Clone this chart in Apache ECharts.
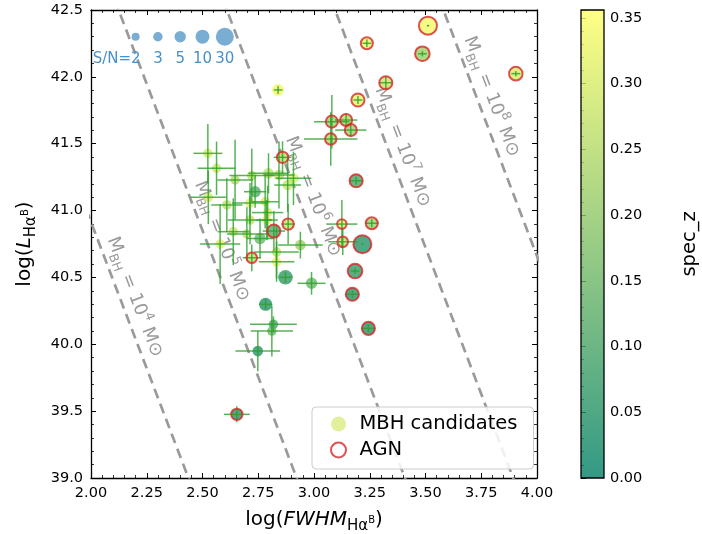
<!DOCTYPE html>
<html><head><meta charset="utf-8">
<script src="https://cdn.jsdelivr.net/npm/echarts@6/dist/echarts.min.js"></script>
<style>html,body{margin:0;padding:0;background:#fff}#c{width:702px;height:534px}</style>
</head><body><div id="c"></div>
<script>
// ---- data ----
const fwhm = [2.524,2.563,2.646,2.721,2.736,2.609,2.713,2.781,2.796,2.843,2.908,2.882,2.792,2.713,2.788,2.638,2.699,2.758,2.579,2.939,2.832,2.832,2.872,2.989,2.783,2.818,2.811,2.748,2.839,2.526,
  3.511,3.237,3.486,3.905,3.322,3.197,3.144,3.165,3.080,3.075,3.189,2.859,3.125,3.259,3.129,3.217,3.184,3.172,3.244,2.820,2.884,2.721,2.654];
const lumHa = [41.428,41.316,41.229,41.262,41.141,41.042,41.056,41.066,41.279,41.266,41.241,41.191,40.985,40.929,40.929,40.842,40.825,40.791,40.750,40.742,40.690,40.617,40.501,40.456,40.299,40.149,40.099,39.949,41.902,41.099,
  42.383,42.251,42.173,42.024,41.956,41.827,41.677,41.602,41.665,41.535,41.223,41.398,40.899,40.905,40.767,40.748,40.548,40.374,40.119,40.847,40.899,40.647,39.476];
const specZ = [0.30,0.29,0.25,0.26,0.12,0.26,0.31,0.30,0.27,0.27,0.31,0.28,0.30,0.27,0.32,0.28,0.26,0.15,0.32,0.22,0.27,0.32,0.07,0.15,0.05,0.10,0.15,0.05,0.34,0.30,
  0.34,0.33,0.22,0.30,0.28,0.32,0.25,0.22,0.22,0.25,0.10,0.27,0.30,0.22,0.27,0.05,0.07,0.05,0.05,0.12,0.28,0.27,0.05];
const snr = [3,3,3,3,5,3,3,3,4,4,4,4,3,3,3,3,3,5,3,4,3,3,12,5,8,3,3,4,6,3,
  30,6,12,9,8,8,6,6,6,5,8,5,3,6,4,30,12,8,8,8,5,4,5];
const fwhmErr = [0.065,0.085,0.08,0.1,0.05,0.07,0.08,0.06,0.09,0.07,0.08,0.06,0.07,0.1,0.05,0.07,0.09,0.06,0.09,0.1,0.1,0.08,0.03,0.063,0.03,0.105,0.095,0.1,0.02,0.08,
  0.005,0.02,0.02,0.02,0.03,0.02,0.05,0.07,0.08,0.12,0.03,0.04,0.07,0.03,0.065,0.005,0.02,0.03,0.03,0.05,0.03,0.04,0.058];
const lumErr = [0.22,0.2,0.3,0.2,0.12,0.2,0.15,0.2,0.15,0.25,0.2,0.2,0.2,0.18,0.15,0.25,0.2,0.15,0.3,0.1,0.2,0.15,0.04,0.085,0.04,0.06,0.19,0.15,0.03,0.2,
  0.005,0.03,0.02,0.02,0.05,0.03,0.05,0.05,0.2,0.2,0.03,0.12,0.18,0.03,0.1,0.005,0.02,0.03,0.03,0.15,0.15,0.1,0.06];
const isAGN = [0,0,0,0,0,0,0,0,0,0,0,0,0,0,0,0,0,0,0,0,0,0,0,0,0,0,0,0,0,0,
  1,1,1,1,1,1,1,1,1,1,1,1,1,1,1,1,1,1,1,1,1,1,1];
const massLines = [4,5,6,7,8];            // log M_BH of the constant-mass lines
const massLabelLum = [40.353,40.77,41.105,41.475,41.852];
const snLegendValues = [2,3,5,10,30];
const snLegendFwhm = [2.2,2.3,2.4,2.5,2.6];
const snLegendLum = 42.3;
const zMax = 0.356;

// ---- helpers ----
const FONT = 'DejaVu Sans';
function symSize(sn){ return 8 + 10*Math.log10(sn/2)/Math.log10(15); }
// logM = 6.57 + 0.47(logL-42) + 2.06(logFWHM-3)
function lumAt(m, fw){ return 42 + (m - 6.57 - 2.06*(fw-3))/0.47; }
function fwhmAt(m, l){ return 3 + (m - 6.57 - 0.47*(l-42))/2.06; }

const pts = fwhm.map((x,i)=>[x, lumHa[i], specZ[i], snr[i]]);
const errs = fwhm.map((x,i)=>[x, lumHa[i], fwhmErr[i], lumErr[i]]);
const agnPts = pts.filter((p,i)=>isAGN[i]===1);

const series = [];
massLines.forEach(m=>{
  series.push({type:'line', name:'M'+m, data:[[1.8, lumAt(m,1.8)],[4.3, lumAt(m,4.3)]],
    symbol:'none', silent:true, clip:true, z:1,
    lineStyle:{color:'#9a9a9a', width:2.7, type:[10,6]}});
});
series.push({type:'custom', name:'mlabels', z:2, silent:true,
  data: massLines.map((m,i)=>[fwhmAt(m, massLabelLum[i]), massLabelLum[i], m]),
  renderItem(params, api){
    const l = api.value(1), m = api.value(2);
    const p = api.coord([fwhmAt(m,l), l]);
    const p2 = api.coord([fwhmAt(m,l-1), l-1]);
    const ang = Math.atan2(p2[1]-p[1], p2[0]-p[0]);
    return {type:'text', x:p[0]+15, y:p[1], rotation:-ang,
      style:{text:'{m|M}{s|BH}{m| = 10}{p|'+m+'}{m| M⊙}', align:'center', verticalAlign:'middle',
        fill:'#9a9a9a',
        rich:{m:{fontFamily:FONT, fontSize:18, lineHeight:26, verticalAlign:'middle', fill:'#9a9a9a'},
              s:{fontFamily:FONT, fontSize:12.5, lineHeight:12, verticalAlign:'bottom', fill:'#9a9a9a'},
              p:{fontFamily:FONT, fontSize:12.5, lineHeight:12, verticalAlign:'top', fill:'#9a9a9a'}}}};
  }});
series.push({type:'scatter', name:'MBH candidates', data:pts, z:3,
  symbolSize:(v)=>symSize(v[3]), itemStyle:{opacity:0.8}});
series.push({type:'custom', name:'errors', z:4, silent:true, data:errs,
  encode:{x:0, y:1},
  renderItem(params, api){
    const x=api.value(0), y=api.value(1), xe=api.value(2), ye=api.value(3);
    const a=api.coord([x-xe,y]), b=api.coord([x+xe,y]), c=api.coord([x,y-ye]), d=api.coord([x,y+ye]);
    const st={stroke:'rgba(44,160,44,0.8)', lineWidth:1.5};
    return {type:'group', children:[
      {type:'line', shape:{x1:a[0],y1:a[1],x2:b[0],y2:b[1]}, style:st},
      {type:'line', shape:{x1:c[0],y1:c[1],x2:d[0],y2:d[1]}, style:st}]};
  }});
series.push({type:'scatter', name:'AGN', data:agnPts, z:5,
  symbolSize:(v)=>symSize(v[3]),
  itemStyle:{color:'rgba(0,0,0,0)', borderColor:'#d62728', borderWidth:2}});
series.push({type:'custom', name:'snlegend', z:5, silent:true,
  data: snLegendValues.map((s,i)=>[snLegendFwhm[i], snLegendLum, s, i]),
  renderItem(params, api){
    const p = api.coord([api.value(0), api.value(1)]);
    const s = api.value(2), i = api.value(3);
    const r = symSize(s)/2;
    const txt = i===0 ? 'S/N=2' : String(s);
    return {type:'group', children:[
      {type:'circle', shape:{cx:p[0], cy:p[1], r:r}, style:{fill:'rgba(31,119,180,0.6)'}},
      {type:'text', x: i===0 ? p[0]+5 : p[0], y:p[1]+22,
        style:{text:txt, fontFamily:FONT, fontSize:15, fill:'#4a90c8', align: i===0?'right':'center', verticalAlign:'middle'}}]};
  }});
// colorbar
series.push({type:'custom', name:'colorbar', xAxisIndex:2, yAxisIndex:2, silent:true,
  data:[[0,0]],
  renderItem(params, api){
    const a = api.coord([0,0]), b = api.coord([1,zMax]);
    return {type:'group', children:[
      {type:'rect', shape:{x:a[0], y:b[1], width:b[0]-a[0], height:a[1]-b[1]},
       style:{fill:new echarts.graphic.LinearGradient(0,1,0,0,[{offset:0,color:'#008066'},{offset:1,color:'#ffff66'}]), opacity:0.8}},
      {type:'rect', shape:{x:a[0], y:b[1], width:b[0]-a[0], height:a[1]-b[1]},
       style:{fill:'none', stroke:'#000', lineWidth:1.3}}]};
  }});

const axisFont = {fontFamily:FONT, fontSize:14.5, color:'#000'};
const tickIn = {show:true, inside:true, length:5, lineStyle:{color:'#000', width:1}};
const minorIn = {show:true, splitNumber:5, length:3, lineStyle:{color:'#000', width:0.8}};
const nameRich = {
  n:{fontFamily:FONT, fontSize:20, lineHeight:28, verticalAlign:'middle', color:'#000'},
  i:{fontFamily:FONT, fontSize:20, fontStyle:'italic', lineHeight:28, verticalAlign:'middle', color:'#000'},
  s:{fontFamily:FONT, fontSize:15, lineHeight:14, verticalAlign:'bottom', color:'#000'},
  t:{fontFamily:FONT, fontSize:10, lineHeight:9, verticalAlign:'bottom', padding:[0,0,9,0], color:'#000'}
};

const option = {
  backgroundColor:'#fff',
  animation:false,
  grid:[{left:91, top:10, width:446, height:468, outerBoundsMode:'none', containLabel:false},
        {left:581, top:10, width:23, height:468, outerBoundsMode:'none', containLabel:false}],
  xAxis:[
    {type:'value', gridIndex:0, min:2, max:4, interval:0.25,
     axisLine:{show:true, onZero:false, lineStyle:{color:'#000', width:1.3}},
     axisTick:tickIn, minorTick:minorIn, splitLine:{show:false},
     axisLabel:{...axisFont, margin:8, formatter:(v)=>v.toFixed(2)},
     name:'{n|log(}{i|FWHM}{s|Hα}{t|B}{n|)}', nameLocation:'middle', nameGap:28,
     nameTextStyle:{rich:nameRich}},
    {type:'value', gridIndex:0, position:'top', min:2, max:4, interval:0.25,
     axisLine:{show:true, onZero:false, lineStyle:{color:'#000', width:1.3}},
     axisTick:tickIn, minorTick:minorIn, splitLine:{show:false}, axisLabel:{show:false}},
    {type:'value', gridIndex:1, min:0, max:1, show:false}
  ],
  yAxis:[
    {type:'value', gridIndex:0, min:39, max:42.5, interval:0.5,
     axisLine:{show:true, onZero:false, lineStyle:{color:'#000', width:1.3}},
     axisTick:tickIn, minorTick:minorIn, splitLine:{show:false},
     axisLabel:{...axisFont, margin:8, formatter:(v)=>v.toFixed(1)},
     name:'{n|log(}{i|L}{s|Hα}{t|B}{n|)}', nameLocation:'middle', nameGap:52, nameRotate:90,
     nameTextStyle:{rich:nameRich}},
    {type:'value', gridIndex:0, position:'right', min:39, max:42.5, interval:0.5,
     axisLine:{show:true, onZero:false, lineStyle:{color:'#000', width:1.3}},
     axisTick:tickIn, minorTick:minorIn, splitLine:{show:false}, axisLabel:{show:false}},
    {type:'value', gridIndex:1, position:'right', min:0, max:zMax, interval:0.05,
     axisLine:{show:false},
     axisTick:{show:true, inside:false, length:5, lineStyle:{color:'#000', width:1}},
     minorTick:{show:true, splitNumber:5, length:3, lineStyle:{color:'#000', width:0.8}},
     splitLine:{show:false},
     axisLabel:{...axisFont, margin:6, showMaxLabel:false, formatter:(v)=>Math.abs(v/0.05-Math.round(v/0.05))<1e-6 ? v.toFixed(2) : ''},
     name:'spec_z', nameLocation:'middle', nameGap:76, nameRotate:90,
     nameTextStyle:{fontFamily:FONT, fontSize:19.5, color:'#000'}}
  ],
  visualMap:{type:'continuous', show:false, min:0, max:zMax, dimension:2, seriesIndex:[series.findIndex(s=>s.name==='MBH candidates')],
    inRange:{color:['#008066','#ffff66']}},
  legend:{left:312, top:407, orient:'vertical', itemWidth:32, itemHeight:15, itemGap:6,
    padding:[7,16,9,18], backgroundColor:'rgba(255,255,255,0.85)', borderColor:'#cccccc', borderWidth:1, borderRadius:4,
    textStyle:{fontFamily:FONT, fontSize:19.5, lineHeight:20, color:'#000'},
    data:[{name:'MBH candidates', icon:'circle', itemStyle:{color:'#d8ec84', borderWidth:0}},
          {name:'AGN', icon:'circle', itemStyle:{color:'#ffffff', borderColor:'#d62728', borderWidth:2}}]},
  series:series
};
const chart = echarts.init(document.getElementById('c'), null, {renderer:'canvas'});
chart.setOption(option);
</script></body></html>
